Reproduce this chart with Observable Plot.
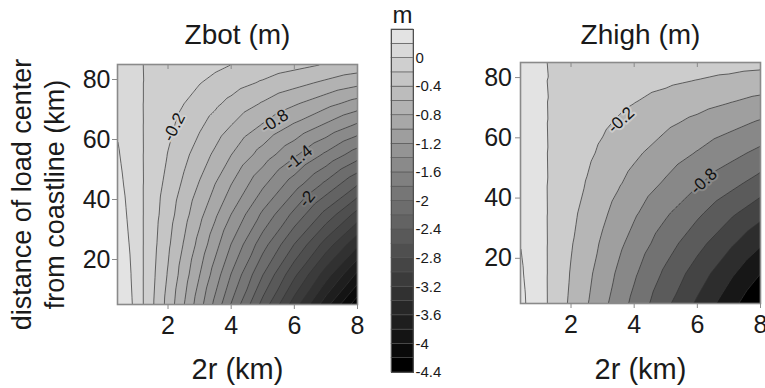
<!DOCTYPE html>
<html><head><meta charset="utf-8">
<script src="https://cdn.jsdelivr.net/npm/d3@7"></script>
<script src="https://cdn.jsdelivr.net/npm/@observablehq/plot@0.6"></script>
<style>
body{margin:0;background:#fff;}
#chart{position:relative;width:765px;height:388px;overflow:hidden;}
#chart svg{position:absolute;top:0;overflow:visible;}
</style></head><body><div id="chart"></div>
<script>
// grid sample positions
const xCols = [0.4, 0.8, 1.2, 1.6, 2, 2.5, 3, 3.5, 4, 5, 6, 7, 8];
const yRows = [5, 15, 25, 35, 45, 55, 65, 72, 79, 85];

// Zbot values: one row per xCols entry, listed along yRows
const zBot = [
  [0.38, 0.35, 0.32, 0.29, 0.255, 0.22, 0.18, 0.15, 0.11, 0.07],
  [0.24, 0.215, 0.19, 0.165, 0.14, 0.11, 0.08, 0.06, 0.04, 0.025],
  [0.01, 0.009, 0.008, 0.007, 0.006, 0.004, 0.003, 0.002, 0.002, 0.001],
  [-0.23, -0.204, -0.178, -0.153, -0.127, -0.101, -0.075, -0.058, -0.039, -0.025],
  [-0.47, -0.417, -0.365, -0.312, -0.259, -0.207, -0.154, -0.118, -0.08, -0.052],
  [-0.79, -0.702, -0.613, -0.525, -0.436, -0.348, -0.259, -0.198, -0.135, -0.087],
  [-1.12, -0.995, -0.869, -0.744, -0.618, -0.493, -0.367, -0.28, -0.192, -0.123],
  [-1.46, -1.296, -1.133, -0.969, -0.806, -0.642, -0.479, -0.365, -0.25, -0.161],
  [-1.81, -1.607, -1.405, -1.202, -0.999, -0.796, -0.594, -0.453, -0.31, -0.199],
  [-2.47, -2.193, -1.917, -1.64, -1.363, -1.087, -0.81, -0.618, -0.422, -0.272],
  [-3.1, -2.753, -2.406, -2.058, -1.711, -1.364, -1.017, -0.775, -0.53, -0.341],
  [-3.72, -3.303, -2.887, -2.47, -2.053, -1.637, -1.22, -0.93, -0.636, -0.409],
  [-4.33, -3.845, -3.36, -2.875, -2.39, -1.905, -1.42, -1.083, -0.74, -0.476]
];

// Zhigh values
const zHigh = [
  [0.25, 0.226, 0.198, 0.168, 0.136, 0.107, 0.079, 0.057, 0.036, 0.018],
  [0.13, 0.117, 0.103, 0.087, 0.071, 0.056, 0.041, 0.03, 0.019, 0.009],
  [0.016, 0.014, 0.013, 0.011, 0.009, 0.007, 0.005, 0.004, 0.002, 0.001],
  [-0.111, -0.1, -0.088, -0.074, -0.06, -0.047, -0.035, -0.025, -0.016, -0.008],
  [-0.236, -0.213, -0.186, -0.158, -0.128, -0.101, -0.074, -0.054, -0.034, -0.017],
  [-0.385, -0.348, -0.304, -0.258, -0.209, -0.164, -0.121, -0.088, -0.055, -0.027],
  [-0.543, -0.49, -0.429, -0.364, -0.295, -0.232, -0.171, -0.124, -0.078, -0.039],
  [-0.7, -0.632, -0.553, -0.47, -0.38, -0.299, -0.22, -0.159, -0.1, -0.05],
  [-0.854, -0.771, -0.675, -0.573, -0.464, -0.365, -0.268, -0.194, -0.122, -0.061],
  [-1.152, -1.04, -0.91, -0.773, -0.626, -0.492, -0.362, -0.262, -0.165, -0.082],
  [-1.433, -1.294, -1.132, -0.962, -0.778, -0.612, -0.45, -0.326, -0.205, -0.102],
  [-1.714, -1.548, -1.354, -1.15, -0.931, -0.732, -0.538, -0.39, -0.245, -0.122],
  [-1.99, -1.797, -1.572, -1.335, -1.081, -0.85, -0.625, -0.453, -0.285, -0.141]
];

// contour levels (lower bound of each filled band)
const botLevels = [-4.4, -4.2, -4, -3.8, -3.6, -3.4, -3.2, -3, -2.8, -2.6, -2.4, -2.2, -2, -1.8, -1.6, -1.4, -1.2, -1, -0.8, -0.6, -0.4, -0.2, 0, 0.2];
const highLevels = [-2, -1.8, -1.6, -1.4, -1.2, -1, -0.8, -0.6, -0.4, -0.2, 0, 0.2];
const colorbarTicks = [0, -0.4, -0.8, -1.2, -1.6, -2, -2.4, -2.8, -3.2, -3.6, -4, -4.4];
const xTicks = [2, 4, 6, 8];
const yTicks = [20, 40, 60, 80];

// inline contour labels
const botLabelText = ["-0.2", "-0.8", "-1.4", "-2"];
const botLabelValue = [-0.2, -0.8, -1.4, -2];
const botLabelX = [2.19, 5.37, 6.14, 6.4];
const botLabelY = [64.1, 66.1, 53.9, 40.2];
const botLabelAngle = [-63, -33, -39, -51];
const highLabelText = ["-0.2", "-0.8"];
const highLabelValue = [-0.2, -0.8];
const highLabelX = [3.58, 6.2];
const highLabelY = [65.9, 45.6];
const highLabelAngle = [-43, -43];

const FONT = '"Liberation Sans", Arial, Helvetica, sans-serif';
const LIGHT = "#e3e3e3";

function grid(z) {
  const out = [];
  xCols.forEach((x, i) => yRows.forEach((y, j) => out.push({x, y, z: z[i][j]})));
  return out;
}
function labelTable(t, v, x, y, a) {
  return t.map((s, i) => ({t: s, z: v[i], x: x[i], y: y[i], a: a[i]}));
}

function panel(o) {
  const fh = 388 - o.marginTop - o.marginBottom;
  return Plot.plot({
    width: o.width, height: 388,
    marginLeft: o.marginLeft, marginRight: o.marginRight,
    marginTop: o.marginTop, marginBottom: o.marginBottom,
    style: {background: "transparent", fontFamily: FONT, color: "#1a1a1a", overflow: "visible"},
    x: {domain: [0.4, 8]},
    y: {domain: [5, 85]},
    color: {type: "linear", domain: o.colorDomain, range: ["#000000", LIGHT], clamp: true},
    marks: [
      Plot.contour(o.data, {x: "x", y: "y", fill: "z", thresholds: o.levels, interpolate: "barycentric", pixelSize: 1, stroke: "#333", strokeWidth: 0.85, strokeOpacity: 0.85}),
      Plot.text(o.labels, {x: "x", y: "y", text: "t", rotate: "a", fill: "#111", stroke: "z", strokeWidth: 4, paintOrder: "stroke", fontSize: 17}),
      Plot.frame({stroke: "#8a8a8a", strokeWidth: 1.6}),
      Plot.ruleX(xTicks, {x: d => d, insetBottom: fh - 5, stroke: "#8a8a8a"}),
      Plot.axisX({ticks: xTicks, tickSize: 5, tickPadding: 7, fontSize: 25, stroke: "#8a8a8a", label: null}),
      Plot.axisY({ticks: yTicks, tickSize: 5, tickPadding: o.yPad, fontSize: 25, stroke: "#8a8a8a", label: null}),
      Plot.text([o.title], {text: d => d, frameAnchor: "top", dy: o.titleDy, fontSize: 28, lineAnchor: "middle"}),
      Plot.text(["2r (km)"], {text: d => d, frameAnchor: "bottom", dy: o.xLabelDy, fontSize: 29, lineAnchor: "middle"}),
      ...(o.yLabel ? [Plot.text([o.yLabel], {text: d => d, frameAnchor: "left", textAnchor: "middle", dx: -81, dy: 10, rotate: -90, fontSize: 27, lineHeight: 1.22, lineAnchor: "middle"})] : [])
    ]
  });
}

const chart = document.getElementById("chart");

const left = panel({
  data: grid(zBot), levels: botLevels, colorDomain: [-4.4, 0.2], title: "Zbot (m)",
  labels: labelTable(botLabelText, botLabelValue, botLabelX, botLabelY, botLabelAngle),
  width: 370, marginLeft: 117, marginRight: 13, marginTop: 64, marginBottom: 84,
  yPad: 2, titleDy: -29, xLabelDy: 65,
  yLabel: "distance of load center\nfrom coastline (km)"
});
left.style.left = "0px";
chart.appendChild(left);

const bar = Plot.plot({
  width: 90, height: 388, marginLeft: 21, marginRight: 47, marginTop: 29, marginBottom: 16,
  style: {background: "transparent", fontFamily: FONT, color: "#1a1a1a", overflow: "visible"},
  y: {domain: [-4.4, 0.4]},
  color: {type: "linear", domain: [-4.4, 0.2], range: ["#000000", LIGHT]},
  marks: [
    Plot.rect(botLevels, {y1: d => d, y2: d => d + 0.2, fill: d => d, stroke: "#505050", strokeWidth: 0.6}),
    Plot.frame({stroke: "#505050"}),
    Plot.axisY({anchor: "right", ticks: colorbarTicks, tickSize: 0, tickPadding: 2, fontSize: 15, tickFormat: d => String(d), label: null}),
    Plot.text(["m"], {text: d => d, frameAnchor: "top", dy: -14, fontSize: 24, lineAnchor: "middle"})
  ]
});
bar.style.left = "370px";
chart.appendChild(bar);

const right = panel({
  data: grid(zHigh), levels: highLevels, colorDomain: [-2, 0], title: "Zhigh (m)",
  labels: labelTable(highLabelText, highLabelValue, highLabelX, highLabelY, highLabelAngle),
  width: 305, marginLeft: 60, marginRight: 5, marginTop: 62, marginBottom: 85,
  yPad: 3.5, titleDy: -27, xLabelDy: 66
});
right.style.left = "460px";
chart.appendChild(right);
</script>
</body></html>
